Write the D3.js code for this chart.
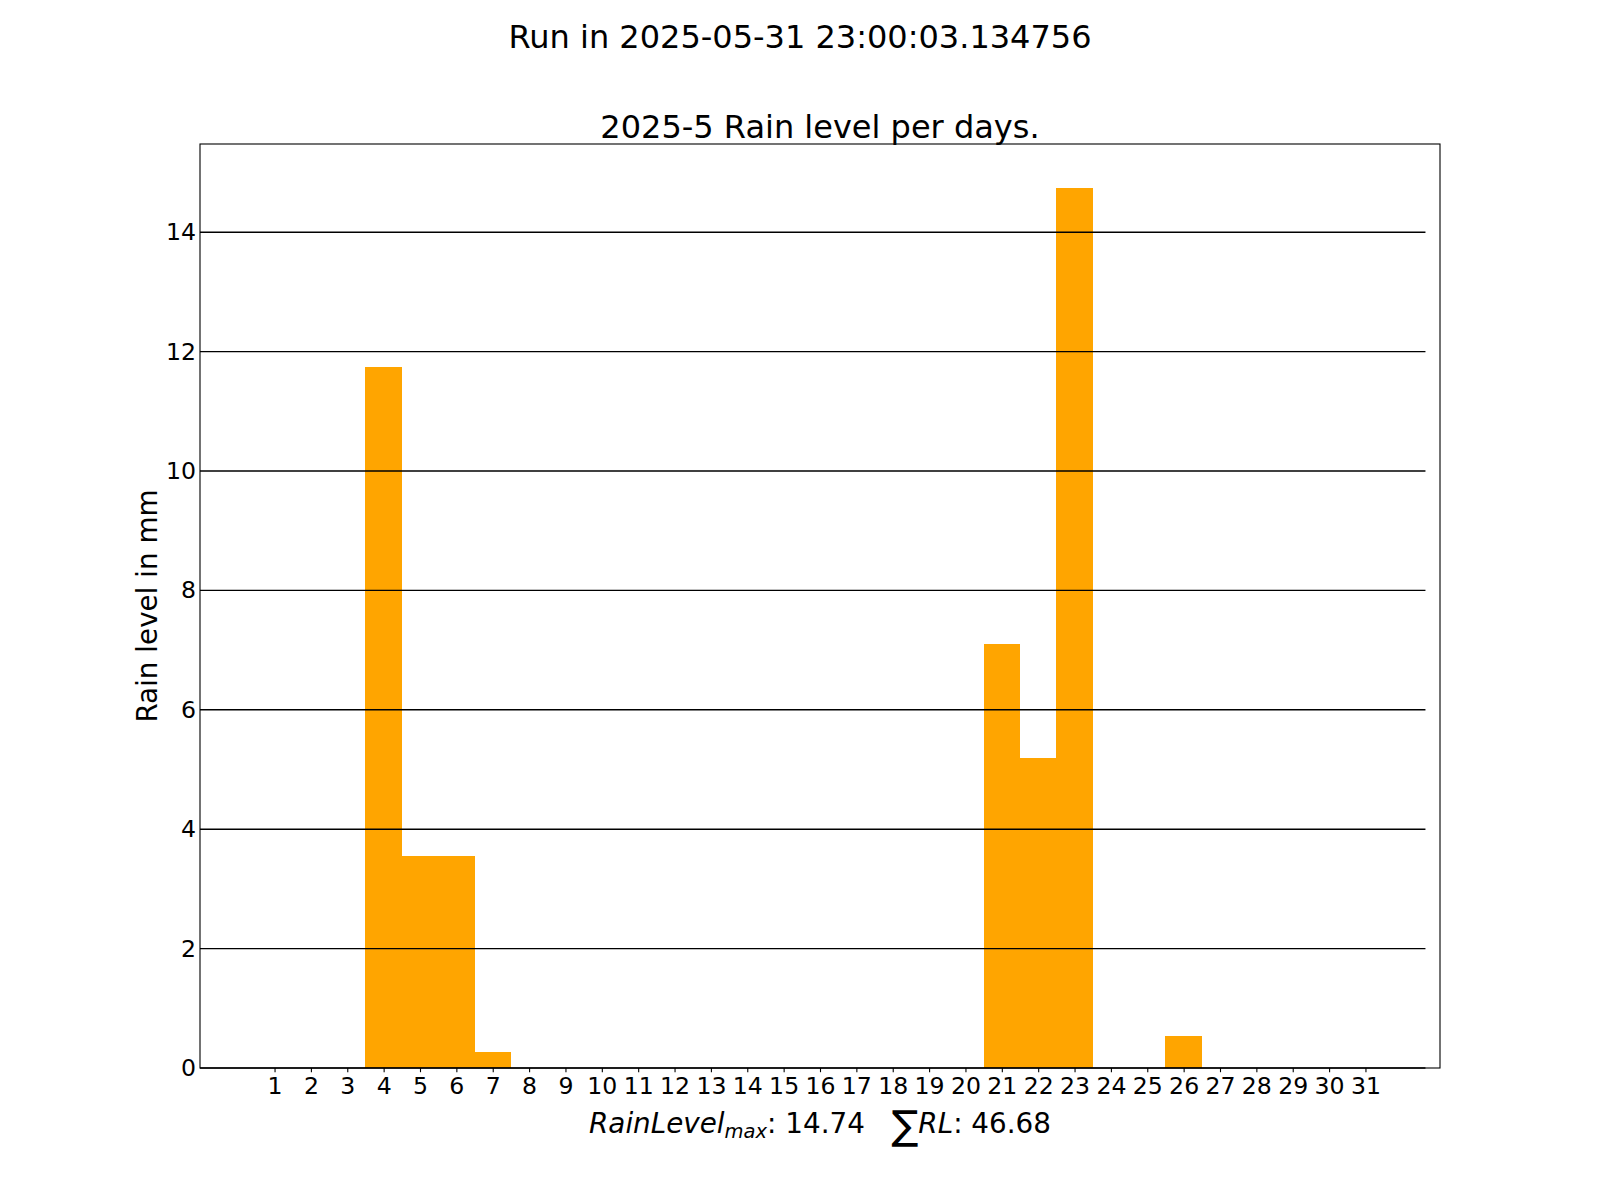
<!DOCTYPE html>
<html><head><meta charset="utf-8">
<script src="https://cdn.jsdelivr.net/npm/d3@7"></script>
<style>
body{margin:0;background:#fff}
svg{display:block}
text{font-family:"DejaVu Sans",sans-serif;fill:#000}
</style>
</head><body>
<svg id="chart" width="1600" height="1200"></svg>
<script>
// ---- data ----
const days = [1,2,3,4,5,6,7,8,9,10,11,12,13,14,15,16,17,18,19,20,21,22,23,24,25,26,27,28,29,30,31];
const rainLevel = [0,0,0,11.74,3.55,3.55,0.26,0,0,0,0,0,0,0,0,0,0,0,0,0,7.10,5.20,14.74,0,0,0.54,0,0,0,0,0];
const yTicks = [0,2,4,6,8,10,12,14];
const suptitle = "Run in 2025-05-31 23:00:03.134756";
const axTitle = "2025-5 Rain level per days.";
const yLabel = "Rain level in mm";
const rainMax = "14.74";
const rainSum = "46.68";

// ---- layout ----
const L = 200, R = 1440, T = 144, B = 1068;
const svg = d3.select("#chart");
svg.append("rect").attr("width",1600).attr("height",1200).attr("fill","#fff");

const x = d3.scaleLinear().domain([-1.05, 33.05]).range([L, R]);
const yMax = d3.max(rainLevel) * 1.05;
const y = d3.scaleLinear().domain([0, yMax]).range([B, T]);

// bars
svg.append("g").attr("shape-rendering", "crispEdges")
  .selectAll("rect").data(days.map((d,i)=>({d, v: rainLevel[i]})).filter(o=>o.v>0))
  .join("rect")
  .attr("x", o => x(o.d - 0.5))
  .attr("width", o => x(o.d + 0.5) - x(o.d - 0.5))
  .attr("y", o => y(o.v))
  .attr("height", o => y(0) - y(o.v))
  .attr("fill", "#FFA500");

// horizontal lines (drawn over bars)
svg.append("g").selectAll("line").data(yTicks).join("line")
  .attr("x1", x(-1.05)).attr("x2", x(32.65))
  .attr("y1", d => y(d)).attr("y2", d => y(d))
  .attr("stroke", "#000").attr("stroke-width", 1.4);

// spines
svg.append("rect").attr("x", L).attr("y", T).attr("width", R - L).attr("height", B - T)
  .attr("fill", "none").attr("stroke", "#000").attr("stroke-width", 1.1);

// axes
const xAxis = svg.append("g").attr("transform", `translate(0,${B})`)
  .call(d3.axisBottom(x).tickValues(days).tickSize(4.2).tickPadding(5).tickFormat(d3.format("d")));
const yAxis = svg.append("g").attr("transform", `translate(${L},0)`)
  .call(d3.axisLeft(y).tickValues(yTicks).tickSize(0).tickPadding(4).tickFormat(d3.format("d")));
[xAxis, yAxis].forEach(g => {
  g.select(".domain").remove();
  g.selectAll(".tick line").attr("stroke", "#000").attr("stroke-width", 1.1);
  g.selectAll(".tick text").attr("font-family", "DejaVu Sans").attr("font-size", 23.6).attr("fill", "#000");
});

// titles
svg.append("text").attr("x", 800).attr("y", 48).attr("text-anchor", "middle")
  .attr("font-size", 32).text(suptitle);
svg.append("text").attr("x", (L + R) / 2).attr("y", 138).attr("text-anchor", "middle")
  .attr("font-size", 32).text(axTitle);

// y label
svg.append("text").attr("transform", `translate(157,${(T + B) / 2}) rotate(-90)`)
  .attr("text-anchor", "middle").attr("font-size", 27.8).text(yLabel);

// x label (math-like)
const xl = svg.append("text").attr("x", (L + R) / 2).attr("y", 1133)
  .attr("text-anchor", "middle").attr("font-size", 27.8).attr("xml:space", "preserve");
xl.append("tspan").attr("font-style", "italic").text("RainLevel");
xl.append("tspan").attr("font-style", "italic").attr("font-size", 19.5).attr("dy", 5).text("max");
xl.append("tspan").attr("dy", -5).text(": " + rainMax + "   ");
xl.append("tspan").attr("font-size", 40).attr("dy", 6).text("\u2211");
xl.append("tspan").attr("font-style", "italic").attr("dy", -6).text("RL");
xl.append("tspan").text(": " + rainSum);
</script>
</body></html>
